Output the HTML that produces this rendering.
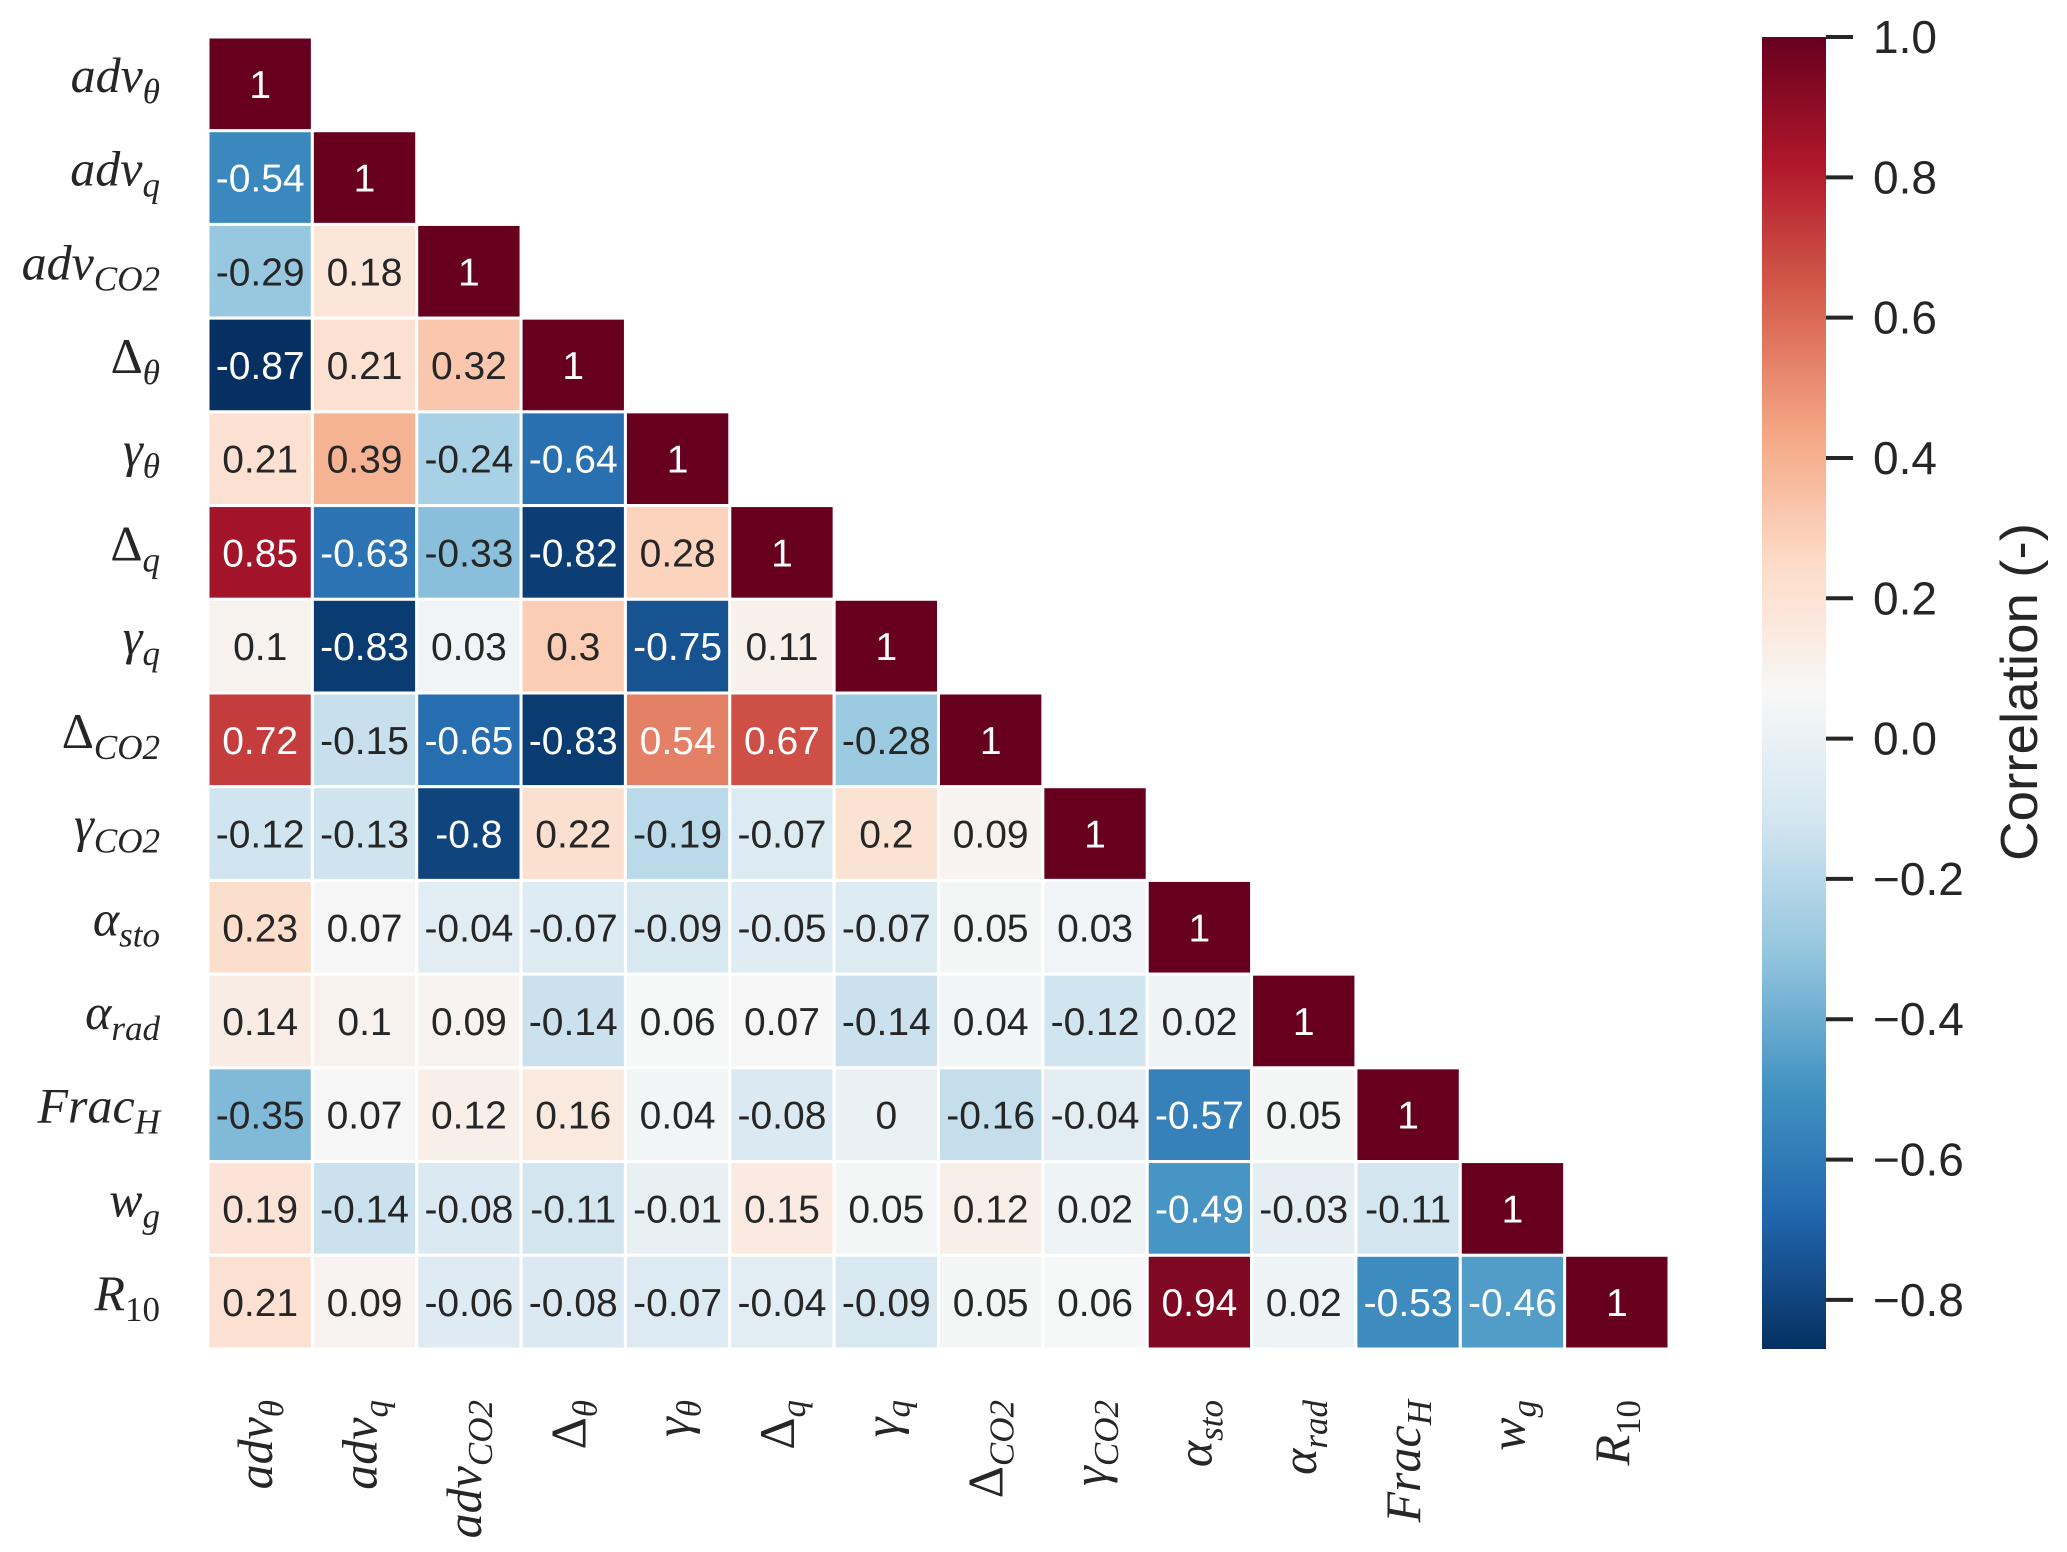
<!DOCTYPE html>
<html><head><meta charset="utf-8"><style>
html,body{margin:0;padding:0;background:#fff;}
svg{display:block;}
</style></head><body>
<svg id="chart" width="2067" height="1552" viewBox="0 0 2067 1552" xmlns="http://www.w3.org/2000/svg">
<defs>
<linearGradient id="cbgrad" x1="0" y1="1" x2="0" y2="0"></linearGradient>
</defs>
<g id="cells"></g>
<g id="rowlabels"></g>
<g id="collabels"></g>
<g id="colorbar"></g>
</svg>
<script>
const labelMain = ["adv","adv","adv","\u0394","\u03b3","\u0394","\u03b3","\u0394","\u03b3","\u03b1","\u03b1","Frac","w","R"];
const labelSub = ["\u03b8","q","CO2","\u03b8","\u03b8","q","q","CO2","CO2","sto","rad","H","g","10"];
const rowValues = [
[1],
[-0.54,1],
[-0.29,0.18,1],
[-0.87,0.21,0.32,1],
[0.21,0.39,-0.24,-0.64,1],
[0.85,-0.63,-0.33,-0.82,0.28,1],
[0.1,-0.83,0.03,0.3,-0.75,0.11,1],
[0.72,-0.15,-0.65,-0.83,0.54,0.67,-0.28,1],
[-0.12,-0.13,-0.8,0.22,-0.19,-0.07,0.2,0.09,1],
[0.23,0.07,-0.04,-0.07,-0.09,-0.05,-0.07,0.05,0.03,1],
[0.14,0.1,0.09,-0.14,0.06,0.07,-0.14,0.04,-0.12,0.02,1],
[-0.35,0.07,0.12,0.16,0.04,-0.08,0,-0.16,-0.04,-0.57,0.05,1],
[0.19,-0.14,-0.08,-0.11,-0.01,0.15,0.05,0.12,0.02,-0.49,-0.03,-0.11,1],
[0.21,0.09,-0.06,-0.08,-0.07,-0.04,-0.09,0.05,0.06,0.94,0.02,-0.53,-0.46,1]
];
const cbTicks = [1.0,0.8,0.6,0.4,0.2,0.0,-0.2,-0.4,-0.6,-0.8];
const cbTickLabels = ["1.0","0.8","0.6","0.4","0.2","0.0","\u22120.2","\u22120.4","\u22120.6","\u22120.8"];
const vmin = -0.87, vmax = 1.0;

const NS="http://www.w3.org/2000/svg";
const X0=208, X1=1669, Y0=37, Y1=1349, N=labelMain.length;
const cw=(X1-X0)/N, ch=(Y1-Y0)/N;
const xPos=i=>X0+i*cw, yPos=i=>Y0+i*ch;
const stops=["#053061","#2166ac","#4393c3","#92c5de","#d1e5f0","#f7f7f7","#fddbc7","#f4a582","#d6604d","#b2182b","#67001f"];
function hex(h){return [1,3,5].map(k=>parseInt(h.substr(k,2),16));}
function cmap(v){let t=(v-vmin)/(vmax-vmin);t=Math.max(0,Math.min(1,t));const p=t*(stops.length-1);const i=Math.min(stops.length-2,Math.floor(p));const f=p-i;const a=hex(stops[i]),b=hex(stops[i+1]);return a.map((c,k)=>Math.round(c+(b[k]-c)*f));}
function mk(tag,attrs,parent){const e=document.createElementNS(NS,tag);for(const k in attrs)e.setAttribute(k,attrs[k]);parent.appendChild(e);return e;}
const cells=document.getElementById('cells');
rowValues.forEach((row,r)=>{row.forEach((v,c)=>{
  const rgb=cmap(v);
  const rect=mk('rect',{x:xPos(c),y:yPos(r),width:cw,height:ch,fill:`rgb(${rgb})`,stroke:'#fff','stroke-width':3},cells);
  
  
  const t=mk('text',{x:xPos(c)+cw/2,y:yPos(r)+ch/2+14,'text-anchor':'middle','font-family':'Liberation Sans, sans-serif','font-size':39,fill:Math.abs(v)>=0.45?'#fff':'#262626'},cells);
  
  
  t.textContent=String(v);
});});
function addLabel(parent,i,attrs){
  const t=mk('text',attrs,parent);
  t.setAttribute('font-family','Liberation Serif, DejaVu Serif, serif');
  t.setAttribute('font-size',50);
  t.setAttribute('fill','#262626');
  const m=mk('tspan',{'font-style':labelMain[i]==='\u0394'?'normal':'italic'},t);m.textContent=labelMain[i];
  const s=mk('tspan',{'font-style':labelSub[i]==='10'?'normal':'italic','font-size':35,dy:11},t);s.textContent=labelSub[i];
  return t;
}
const rl=document.getElementById('rowlabels');
for(let i=0;i<N;i++){const t=addLabel(rl,i,{x:160,y:yPos(i)+ch/2+8,'text-anchor':'end'});
  
  }
const cl=document.getElementById('collabels');
for(let i=0;i<N;i++){const cx=xPos(i)+cw/2+12, cy=1400;
  const t=addLabel(cl,i,{x:cx,y:cy,'text-anchor':'end',transform:`rotate(-90 ${cx} ${cy})`});
  
  }
const grad=document.getElementById('cbgrad');
for(let k=0;k<=40;k++){const v=vmin+(vmax-vmin)*k/40;mk('stop',{offset:k/40,'stop-color':`rgb(${cmap(v)})`},grad);}
const cb=document.getElementById('colorbar');
const CBX=1762,CBW=64;
const cbY=v=>Y1-(v-vmin)/(vmax-vmin)*(Y1-Y0);
const bar=mk('rect',{x:CBX,y:Y0,width:CBW,height:Y1-Y0,fill:'url(#cbgrad)'},cb);


cbTicks.forEach((v,i)=>{const y=cbY(v);
  const l=mk('line',{x1:CBX+CBW,x2:CBX+CBW+27,y1:y,y2:y,stroke:'#262626','stroke-width':4},cb);
  
  
  const t=mk('text',{x:1873,y:y+16,'font-family':'Liberation Sans, sans-serif','font-size':46,fill:'#262626'},cb);
  
  
  t.textContent=cbTickLabels[i];});
const title=mk('text',{x:2037,y:692,'text-anchor':'middle','font-family':'Liberation Sans, sans-serif','font-size':52,fill:'#262626',transform:'rotate(-90 2037 692)',textLength:338,lengthAdjust:'spacingAndGlyphs'},cb);


title.textContent='Correlation (-)';
</script>
</body></html>
